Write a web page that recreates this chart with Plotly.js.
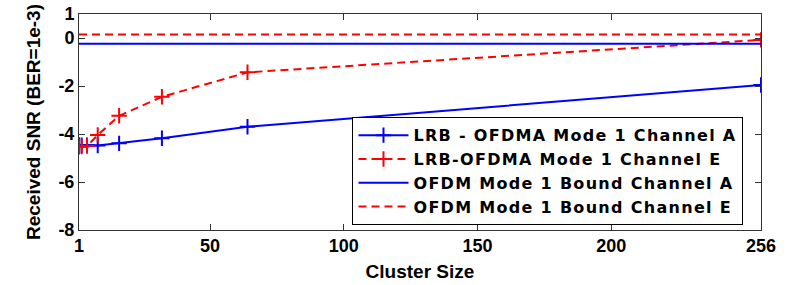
<!DOCTYPE html>
<html>
<head>
<meta charset="utf-8">
<script src="https://cdn.plot.ly/plotly-3.0.1.min.js"></script>
<style>html,body{margin:0;padding:0;background:#fff;}#chart{width:788px;height:285px;}
.legendtext{letter-spacing:1.3px;}</style>
</head>
<body>
<div id="chart"></div>
<script>
const clusterSizes = [1, 2, 4, 8, 16, 32, 64, 256];
const lrbChannelA = [-4.46, -4.47, -4.47, -4.48, -4.39, -4.18, -3.70, -1.96];
const lrbChannelE = [-4.53, -4.52, -4.50, -4.04, -3.24, -2.45, -1.43, -0.08];
const boundX = [1, 256];
const boundChannelA = [-0.24, -0.24];
const boundChannelE = [0.15, 0.15];
const seriesNames = ['LRB - OFDMA Mode 1 Channel A', 'LRB-OFDMA Mode 1 Channel E', 'OFDM Mode 1 Bound Channel A', 'OFDM Mode 1 Bound Channel E'];
const xTicks = [1, 50, 100, 150, 200, 256];
const yTicks = [1, 0, -2, -4, -6, -8];

const fontFam = 'Liberation Sans, Arial, sans-serif';
const legendFam = 'DejaVu Sans, Liberation Sans, sans-serif';
const traces = [
  {x: clusterSizes, y: lrbChannelA, name: seriesNames[0], mode: 'lines+markers',
   line: {color: '#0000ff', width: 2}, marker: {symbol: 'cross-thin-open', size: 11, line: {color: '#0000ff', width: 2}}},
  {x: clusterSizes, y: lrbChannelE, name: seriesNames[1], mode: 'lines+markers',
   line: {color: '#ff0000', width: 2, dash: '8px,5px'}, marker: {symbol: 'cross-thin-open', size: 11, line: {color: '#ff0000', width: 2}}},
  {x: boundX, y: boundChannelA, name: seriesNames[2], mode: 'lines',
   line: {color: '#0000ff', width: 2}},
  {x: boundX, y: boundChannelE, name: seriesNames[3], mode: 'lines',
   line: {color: '#ff0000', width: 2, dash: '8px,5px'}}
];
const layout = {
  width: 788, height: 285,
  margin: {l: 79, r: 27, t: 14, b: 55},
  paper_bgcolor: '#fff', plot_bgcolor: '#fff',
  font: {family: fontFam, size: 18, color: '#000', weight: 'bold'},
  showlegend: true,
  legend: {x: 0.401, y: 0.522, xanchor: 'left', yanchor: 'top', bgcolor: '#fff',
    bordercolor: '#000', borderwidth: 1, font: {family: legendFam, size: 16, color: '#000', weight: 'bold'},
    tracegroupgap: 0, itemwidth: 50},
  xaxis: {range: [1, 256], tickvals: xTicks, ticktext: xTicks.map(String), ticks: 'inside', ticklen: 6,
    tickcolor: '#333', showline: true, linecolor: '#333', linewidth: 1, mirror: 'ticks', showgrid: false, zeroline: false,
    tickfont: {family: fontFam, size: 18, weight: 'bold'}, ticklabelstandoff: -1,
    title: {text: 'Cluster Size', font: {family: fontFam, size: 19, weight: 'bold'}, standoff: 10}},
  yaxis: {range: [-8, 1], tickvals: yTicks, ticktext: yTicks.map(String), ticks: 'inside', ticklen: 6,
    tickcolor: '#333', showline: true, linecolor: '#333', linewidth: 1, mirror: 'ticks', showgrid: false, zeroline: false,
    tickfont: {family: fontFam, size: 18, weight: 'bold'},
    title: {text: 'Received SNR (BER=1e-3)', font: {family: fontFam, size: 19, weight: 'bold'}, standoff: 12}}
};
Plotly.newPlot('chart', traces, layout, {displayModeBar: false, staticPlot: true});
</script>
</body>
</html>
